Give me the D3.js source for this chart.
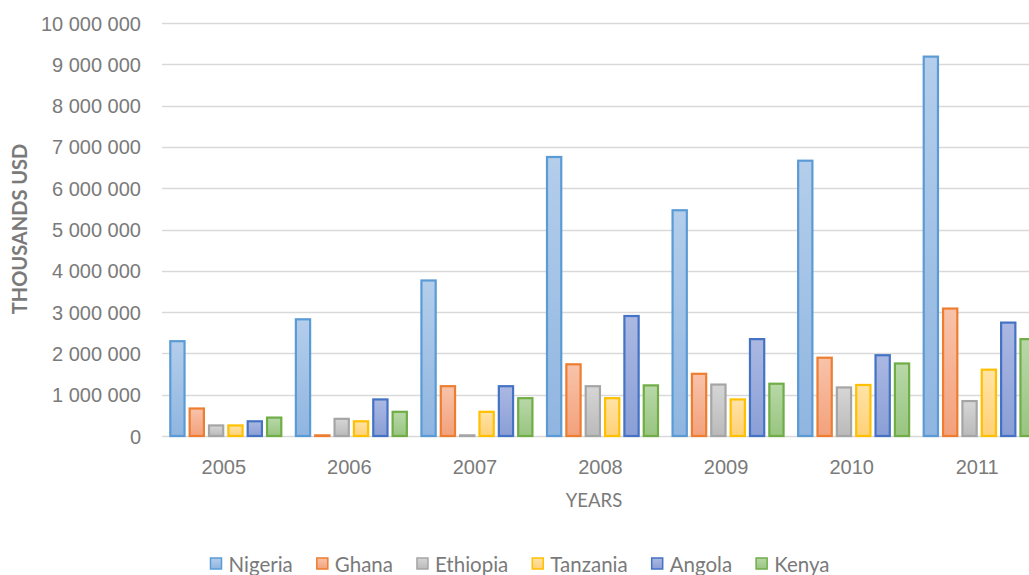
<!DOCTYPE html>
<html><head><meta charset="utf-8">
<script src="https://cdn.jsdelivr.net/npm/d3@7"></script>
<style>
html,body{margin:0;padding:0;background:#fff;overflow:hidden}
svg{display:block;font-family:Lato,"Open Sans",sans-serif}
</style></head>
<body>
<svg id="chart" width="1029" height="575"></svg>
<script>
const years = ["2005","2006","2007","2008","2009","2010","2011"];
const seriesNames = ["Nigeria","Ghana","Ethiopia","Tanzania","Angola","Kenya"];
const nigeria  = [2320000,2850000,3790000,6780000,5490000,6690000,9210000];
const ghana    = [690000,40000,1230000,1760000,1530000,1920000,3110000];
const ethiopia = [280000,440000,40000,1230000,1270000,1200000,870000];
const tanzania = [280000,380000,610000,940000,910000,1260000,1630000];
const angola   = [380000,910000,1230000,2930000,2370000,1980000,2770000];
const kenya    = [470000,610000,940000,1250000,1290000,1780000,2370000];
const yTicks = [0,1000000,2000000,3000000,4000000,5000000,6000000,7000000,8000000,9000000,10000000];

const values = [nigeria,ghana,ethiopia,tanzania,angola,kenya];
const strokes = ["#5B9BD5","#ED7D31","#A5A5A5","#FFC000","#4472C4","#70AD47"];
const fillTop = ["#B4CEEB","#F8C3AA","#D6D6D6","#FFE3A6","#ABB8E2","#B8D8A8"];
const fillBot = ["#8FB5E0","#F3A17C","#BABABA","#FFD178","#8A9FD6","#98C580"];

const svg = d3.select("#chart");
const defs = svg.append("defs");
strokes.forEach((c,i)=>{
  const g = defs.append("linearGradient").attr("id","g"+i).attr("x1",0).attr("y1",0).attr("x2",0).attr("y2",1);
  g.append("stop").attr("offset","0%").attr("stop-color",fillTop[i]);
  g.append("stop").attr("offset","100%").attr("stop-color",fillBot[i]);
});

const plotL = 161, plotR = 1040, plotT = 23, plotB = 436;
const x = d3.scaleBand().domain(years).range([plotL,plotR]).paddingInner(0).paddingOuter(0);
const y = d3.scaleLinear().domain([0,10000000]).range([plotB,plotT]);
const x1 = d3.scaleBand().domain(seriesNames).range([0,113]).paddingInner(0.16);
const groupOff = (x.bandwidth()-113)/2 + 2;

const fmt = v => d3.format(",")(v).replace(/,/g," ");

// gridlines
svg.append("g").selectAll("line").data(yTicks).join("line")
  .attr("x1",plotL+1).attr("x2",1029)
  .attr("y1",d=>Math.round(y(d))+0.5).attr("y2",d=>Math.round(y(d))+0.5)
  .attr("stroke","#D9D9D9").attr("stroke-width",1.5);

// y axis labels
const yAxis = d3.axisLeft(y).tickValues(yTicks).tickSize(0).tickPadding(0).tickFormat(fmt);
const ya = svg.append("g").attr("transform","translate(141,0)").call(yAxis);
ya.select(".domain").remove();
ya.selectAll("text").attr("fill","#7a7a7a").style("font-size","20px").attr("dy","0.35em");

// bars
const groups = svg.append("g").selectAll("g").data(years).join("g")
  .attr("transform",d=>`translate(${x(d)+groupOff},0)`);
groups.selectAll("rect").data((d,yi)=>seriesNames.map((s,si)=>({s,si,v:values[si][yi]}))).join("rect")
  .attr("x",d=>x1(d.s)+1).attr("width",x1.bandwidth()-2)
  .attr("y",d=>y(d.v)+1).attr("height",d=>Math.max(0,plotB-y(d.v)-1))
  .attr("fill",d=>`url(#g${d.si})`).attr("stroke",d=>strokes[d.si]).attr("stroke-width",2.2);

// x axis labels
const xAxis = d3.axisBottom(x).tickSize(0).tickPadding(0);
const xa = svg.append("g").attr("transform",`translate(0,${plotB})`).call(xAxis);
xa.select(".domain").remove();
xa.selectAll("text").attr("fill","#7a7a7a").style("font-size","20px").attr("dy","0").attr("y",38);

// axis titles
svg.append("text").attr("x",594).attr("y",507).attr("text-anchor","middle")
  .attr("fill","#7a7a7a").style("font-size","18.5px").text("YEARS");
svg.append("text").attr("transform","translate(27,229) rotate(-90)").attr("text-anchor","middle")
  .attr("fill","#7a7a7a").style("font-size","20px").style("font-weight","bold").text("THOUSANDS USD");

// legend
const lg = svg.append("g");
let cx = 0;
seriesNames.forEach((n,i)=>{
  const it = lg.append("g");
  it.append("rect").attr("x",cx+1).attr("y",-14).attr("width",11).attr("height",11)
    .attr("fill",`url(#g${i})`).attr("stroke",strokes[i]).attr("stroke-width",1.5);
  const t = it.append("text").attr("x",cx+19).attr("y",0).attr("fill","#7a7a7a").style("font-size","20.5px").text(n);
  cx += 19 + t.node().getComputedTextLength() + 23;
});
const total = cx - 23;
lg.attr("transform",`translate(${(210+831)/2 - total/2 - 1},572)`);
</script>
</body></html>
